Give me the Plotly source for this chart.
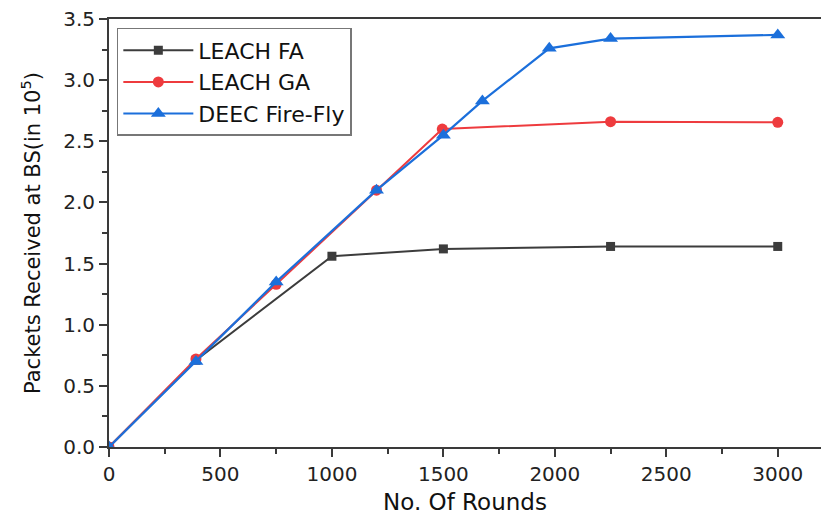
import plotly.graph_objects as go

# Data
fa_x = [0, 390, 1000, 1500, 2250, 3000]
fa_y = [0.0, 0.71, 1.56, 1.62, 1.64, 1.64]

ga_x = [0, 390, 750, 1200, 1495, 2250, 3000]
ga_y = [0.0, 0.72, 1.33, 2.10, 2.60, 2.66, 2.655]

ff_x = [0, 390, 750, 1200, 1500, 1675, 1975, 2250, 3000]
ff_y = [0.0, 0.70, 1.35, 2.10, 2.55, 2.83, 3.26, 3.34, 3.37]

series_names = ["LEACH FA", "LEACH GA", "DEEC Fire-Fly"]

FONT = "DejaVu Sans"
AXC = "#3a3a3a"

fig = go.Figure()
fig.add_trace(go.Scatter(x=fa_x, y=fa_y, name=series_names[0], mode="lines+markers",
                         line=dict(color="#3c3c3c", width=2),
                         marker=dict(symbol="square", size=9, color="#3c3c3c")))
fig.add_trace(go.Scatter(x=ga_x, y=ga_y, name=series_names[1], mode="lines+markers",
                         line=dict(color="#ee3b3e", width=2),
                         marker=dict(symbol="circle", size=11, color="#ee3b3e")))
fig.add_trace(go.Scatter(x=ff_x, y=ff_y, name=series_names[2], mode="lines+markers",
                         line=dict(color="#1b6fdb", width=2.2),
                         marker=dict(symbol="triangle-up", size=13, color="#1b6fdb")))

fig.update_layout(
    width=821, height=515,
    margin=dict(l=109, r=0, t=19, b=68),
    paper_bgcolor="white", plot_bgcolor="white",
    font=dict(family=FONT, color="#222"),
    showlegend=True,
    legend=dict(x=0.011, y=0.979, xanchor="left", yanchor="top",
                bordercolor="#777", borderwidth=1.5, bgcolor="white",
                font=dict(family=FONT, size=22, color="#111"),
                tracegroupgap=0, itemwidth=70),
    xaxis=dict(range=[0, 3194], tickvals=[0, 500, 1000, 1500, 2000, 2500, 3000],
               showgrid=False, zeroline=False,
               showline=True, linecolor=AXC, linewidth=2, mirror=True,
               ticks="outside", ticklen=8, tickwidth=2, tickcolor=AXC,
               minor=dict(dtick=250, ticks="outside", ticklen=5, tickwidth=2, tickcolor=AXC, showgrid=False),
               tickfont=dict(family=FONT, size=20, color="#222"),
               title=dict(text="No. Of Rounds", font=dict(family=FONT, size=23, color="#111"), standoff=10)),
    yaxis=dict(range=[0, 3.5], dtick=0.5, tickformat=".1f",
               showgrid=False, zeroline=False,
               showline=True, linecolor=AXC, linewidth=2, mirror=False,
               ticks="outside", ticklen=8, tickwidth=2, tickcolor=AXC,
               minor=dict(dtick=0.25, ticks="outside", ticklen=5, tickwidth=2, tickcolor=AXC, showgrid=False),
               tickfont=dict(family=FONT, size=20, color="#222"),
               title=dict(text="Packets Received at BS(in 10<sup>5</sup>)",
                          font=dict(family=FONT, size=21, color="#111"), standoff=17)),
)

fig.write_html("out.html")
